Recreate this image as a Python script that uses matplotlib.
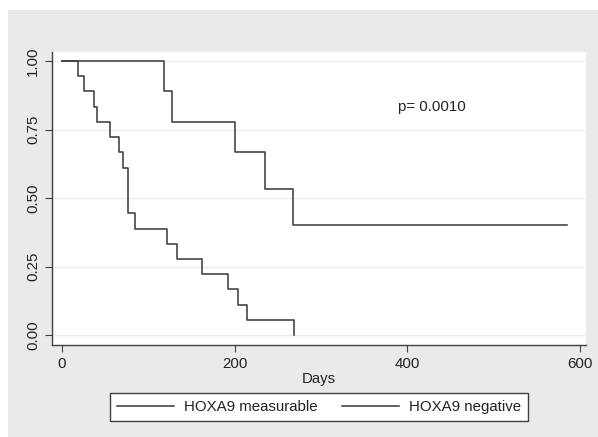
import matplotlib
matplotlib.use("Agg")
import matplotlib.pyplot as plt
from matplotlib.patches import Rectangle

# Kaplan-Meier steps (days, survival)
meas_days = [0, 19, 25, 37, 41, 56, 66, 71, 76, 85, 122, 133, 162, 193, 204, 215, 269]
meas_surv = [1.0, 0.944, 0.889, 0.833, 0.778, 0.722, 0.667, 0.611, 0.444, 0.389,
             0.333, 0.278, 0.222, 0.167, 0.111, 0.056, 0.0]
neg_days = [0, 118, 127, 200, 235, 268, 585]
neg_surv = [1.0, 0.889, 0.778, 0.667, 0.533, 0.40, 0.40]

xticks = [0, 200, 400, 600]
yticks = [0.0, 0.25, 0.5, 0.75, 1.0]
ytick_labels = ["0.00", "0.25", "0.50", "0.75", "1.00"]
p_text = "p= 0.0010"

plt.rcParams['font.family'] = ['Liberation Sans', 'DejaVu Sans']
line_col = "#3f3f3f"
grey = "#eaeaea"

fig = plt.figure(figsize=(5.98, 4.37), dpi=100)
fig.patch.set_facecolor("white")
bg = Rectangle((8 / 598, 0), 1 - 8 / 598, 1 - 10 / 437,
               transform=fig.transFigure, facecolor=grey,
               edgecolor="none", zorder=-10)
fig.patches.append(bg)

ax = fig.add_axes([52 / 598, 1 - 345 / 437, (586 - 52) / 598, (345 - 52) / 437])
ax.set_facecolor("white")

ax.step(meas_days, meas_surv, where="post", color=line_col, lw=1.15,
        label="HOXA9 measurable")
ax.step(neg_days, neg_surv, where="post", color=line_col, lw=1.15,
        label="HOXA9 negative")

ax.set_xlim(-11.6, 607.5)
ax.set_ylim(-0.036, 1.033)
ax.set_xticks(xticks)
ax.set_yticks(yticks)
ax.set_yticklabels(ytick_labels, rotation=90, va="center")
ax.tick_params(axis="both", direction="out", length=5, width=0.8,
               color=line_col, labelsize=10.8, labelcolor="#222222")
ax.yaxis.grid(True, color="#ececec", lw=1.0)
ax.set_axisbelow(True)
for s in ["top", "right"]:
    ax.spines[s].set_visible(False)
for s in ["left", "bottom"]:
    ax.spines[s].set_color(line_col)
    ax.spines[s].set_linewidth(1.0)

ax.set_xlabel("Days", fontsize=10.8, color="#222222", labelpad=1)
ax.text(389, 0.832, p_text, fontsize=10.8, color="#222222", va="center", ha="left")

leg = fig.legend(loc="center", bbox_to_anchor=(319 / 598, 1 - 407 / 437), ncol=2,
                 fancybox=False, frameon=True, edgecolor=line_col, framealpha=1,
                 facecolor="white", fontsize=10.8, handletextpad=0.7,
                 handlelength=3.8, columnspacing=1.6, borderpad=0.45)
leg.get_frame().set_linewidth(1.0)
for t in leg.get_texts():
    t.set_color("#222222")

fig.savefig("out.png", dpi=100, facecolor=fig.get_facecolor())
